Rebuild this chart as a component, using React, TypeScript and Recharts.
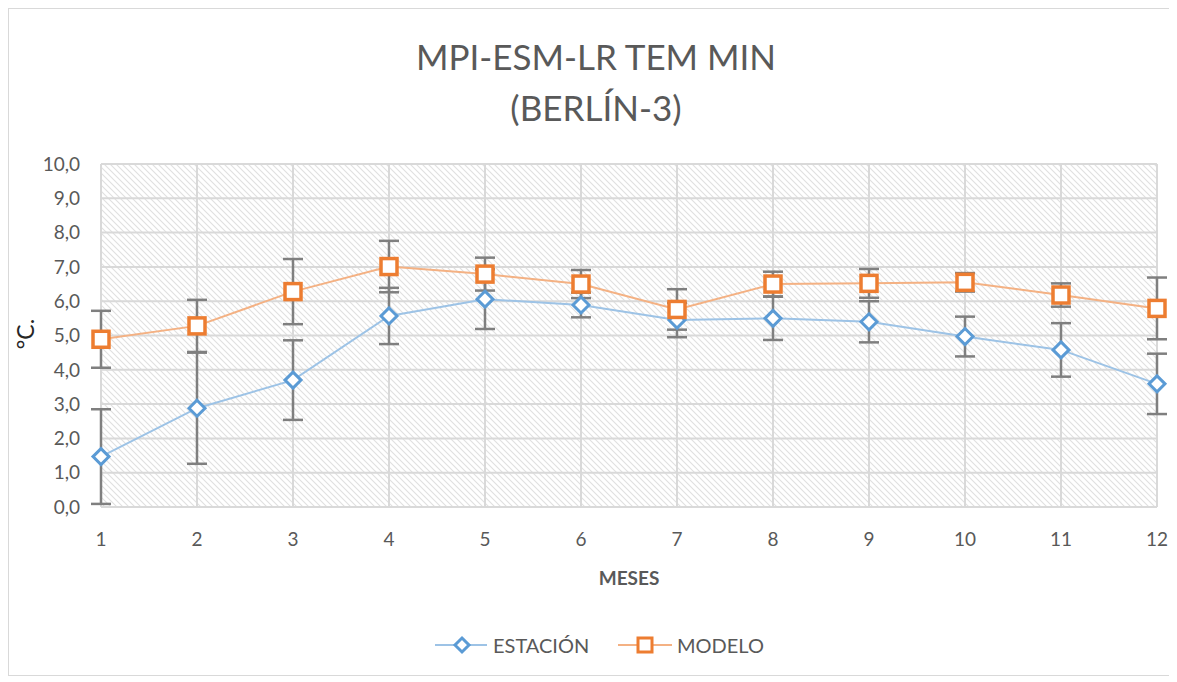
import { LineChart, Line, XAxis, YAxis, CartesianGrid, ErrorBar } from "recharts";

const months = [1, 2, 3, 4, 5, 6, 7, 8, 9, 10, 11, 12];
const estacion = [1.47, 2.88, 3.7, 5.57, 6.06, 5.89, 5.45, 5.5, 5.4, 4.97, 4.58, 3.59];
const estacionErr = [1.38, 1.62, 1.16, 0.82, 0.87, 0.36, 0.5, 0.63, 0.6, 0.58, 0.78, 0.88];
const modelo = [4.89, 5.28, 6.28, 7.01, 6.79, 6.5, 5.76, 6.5, 6.52, 6.55, 6.18, 5.79];
const modeloErr = [0.83, 0.76, 0.95, 0.75, 0.48, 0.41, 0.59, 0.36, 0.42, 0.27, 0.34, 0.9];
const yTicks = [0, 1, 2, 3, 4, 5, 6, 7, 8, 9, 10];

const data = months.map((m, i) => ({
  month: m,
  estacion: estacion[i],
  estErr: estacionErr[i],
  modelo: modelo[i],
  modErr: modeloErr[i],
}));

const FONT = "Lato, 'Open Sans', sans-serif";
const TEXT = "#595959";
const BLUE = "#5b9bd5";
const BLUE_LINE = "#9dc3e6";
const ORANGE = "#ed7d31";
const ORANGE_LINE = "#f4b183";

function diamondPath(cx: number, cy: number, r: number) {
  return `M${cx},${cy - r} L${cx + r},${cy} L${cx},${cy + r} L${cx - r},${cy} Z`;
}

const DiamondDot = (p: any) => (
  <path
    key={`d-${p.index}`}
    d={diamondPath(p.cx, p.cy, 8)}
    fill="#fff"
    stroke={BLUE}
    strokeWidth={3}
  />
);

const SquareDot = (p: any) => (
  <rect
    key={`s-${p.index}`}
    x={p.cx - 8}
    y={p.cy - 8}
    width={16}
    height={16}
    fill="#fff"
    stroke={ORANGE}
    strokeWidth={3.5}
  />
);

export default function App() {
  return (
    <div
      style={{
        position: "relative",
        width: 1162,
        height: 668,
        border: "1px solid #d9d9d9",
        boxSizing: "border-box",
        background: "#fff",
        fontFamily: FONT,
      }}
    >
      <svg width={0} height={0} style={{ position: "absolute" }}>
        <defs>
          <pattern id="hatch" width="6" height="6" patternUnits="userSpaceOnUse">
            <rect width="6" height="6" fill="#fff" />
            <path
              d="M-1,-1 L7,7 M-1,5 L1,7 M5,-1 L7,1"
              stroke="#e0e0e0"
              strokeWidth={1.1}
            />
          </pattern>
        </defs>
      </svg>
      <LineChart
        width={1160}
        height={666}
        data={data}
        margin={{ top: 155, right: 12, bottom: 0, left: 0 }}
      >
        <CartesianGrid
          fill="url(#hatch)"
          fillOpacity={1}
          stroke="#d9d9d9"
          strokeWidth={2}
        />
        <XAxis
          dataKey="month"
          type="number"
          domain={[1, 12]}
          ticks={months}
          height={168}
          axisLine={false}
          tickLine={false}
          tickMargin={20}
          tick={{ fill: TEXT, fontSize: 19, fontFamily: FONT }}
        />
        <YAxis
          type="number"
          domain={[0, 10]}
          ticks={yTicks}
          width={92}
          axisLine={false}
          tickLine={false}
          tickMargin={15}
          tickFormatter={(v: number) => v.toFixed(1).replace(".", ",")}
          tick={{ fill: TEXT, fontSize: 19, fontFamily: FONT }}
        />
        <Line
          dataKey="estacion"
          stroke={BLUE_LINE}
          strokeWidth={2}
          dot={DiamondDot}
          activeDot={false}
          isAnimationActive={false}
        >
          <ErrorBar dataKey="estErr" direction="y" width={10} stroke="#7f7f7f" strokeWidth={2.5} />
        </Line>
        <Line
          dataKey="modelo"
          stroke={ORANGE_LINE}
          strokeWidth={2}
          dot={SquareDot}
          activeDot={false}
          isAnimationActive={false}
        >
          <ErrorBar dataKey="modErr" direction="y" width={10} stroke="#7f7f7f" strokeWidth={2.5} />
        </Line>
      </LineChart>
      <svg
        width={1160}
        height={666}
        style={{ position: "absolute", left: 0, top: 0, pointerEvents: "none" }}
      >
        <g fontFamily={FONT}>
          <text x={587} y={61} textAnchor="middle" fontSize={35} fill={TEXT}>
            MPI-ESM-LR TEM MIN
          </text>
          <text x={587} y={112} textAnchor="middle" fontSize={35} fill={TEXT}>
            (BERLÍN-3)
          </text>
          <text
            x={16}
            y={325}
            transform="rotate(-90 16 325)"
            textAnchor="middle"
            dominantBaseline="central"
            fontSize={23}
            fill="#262626"
          >
            °C.
          </text>
          <text
            x={620}
            y={568}
            textAnchor="middle"
            dominantBaseline="central"
            fontSize={19}
            fontWeight="bold"
            fill={TEXT}
          >
            MESES
          </text>
          <line x1={426} y1={636} x2={478} y2={636} stroke={BLUE_LINE} strokeWidth={2} />
          <path d={diamondPath(453, 636, 7)} fill="#fff" stroke={BLUE} strokeWidth={3} />
          <text x={484} y={636} dominantBaseline="central" fontSize={20} fill={TEXT}>
            ESTACIÓN
          </text>
          <line x1={609} y1={636} x2={663} y2={636} stroke={ORANGE_LINE} strokeWidth={2} />
          <rect x={629} y={629} width={14} height={14} fill="#fff" stroke={ORANGE} strokeWidth={3} />
          <text x={668} y={636} dominantBaseline="central" fontSize={20} fill={TEXT}>
            MODELO
          </text>
        </g>
      </svg>
    </div>
  );
}
